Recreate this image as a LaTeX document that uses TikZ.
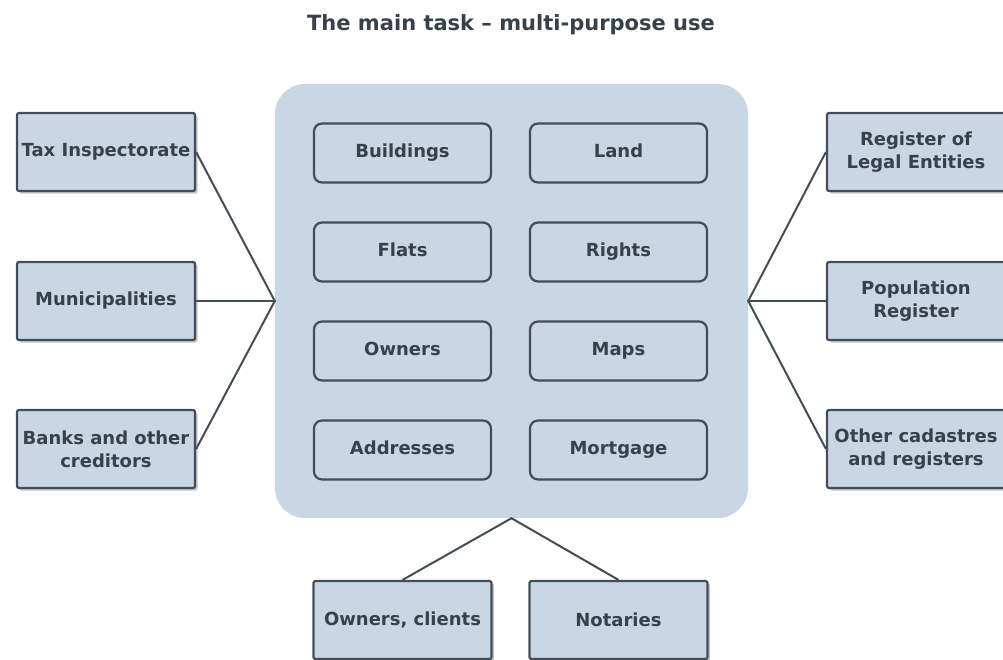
\documentclass[tikz,border=0pt]{standalone}
\usepackage{fontspec}
\setmainfont{DejaVu Sans}
\usetikzlibrary{shadows}
\definecolor{boxblue}{HTML}{C9D6E3}
\definecolor{edgegray}{HTML}{434D57}
\definecolor{textgray}{HTML}{37414B}

\begin{document}
\begin{tikzpicture}[x=1pt, y=-1pt,
    outer/.style={draw=edgegray, line width=2.2pt, fill=boxblue, rounded corners=2pt,
      minimum width=178pt, minimum height=78pt, align=center, text=textgray, inner sep=2pt,
      font=\fontsize{18}{23}\selectfont\bfseries,
      drop shadow={opacity=0.45, shadow xshift=2.5pt, shadow yshift=-2.5pt}},
    inner/.style={draw=edgegray, line width=2.2pt, rounded corners=8pt, minimum width=177pt,
      minimum height=59pt, text=textgray, text height=13pt, text depth=4pt,
      font=\fontsize{18}{23}\selectfont\bfseries},
    link/.style={draw=edgegray, line width=2pt}]
    \useasboundingbox (0,0) rectangle (1003,659);

    % Title
    \node[text=textgray, font=\fontsize{21}{25}\selectfont\bfseries] (title) at (511,25)
        {The main task -- multi-purpose use};

    % Central register
    \node[fill=boxblue, rounded corners=30pt, minimum width=473pt, minimum height=434pt]
        (core) at (511.5,301) {};
    \node[inner] (buildings) at (402.5,153) {Buildings};
    \node[inner] (land)      at (618.5,153) {Land};
    \node[inner] (flats)     at (402.5,252) {Flats};
    \node[inner] (rights)    at (618.5,252) {Rights};
    \node[inner] (owners)    at (402.5,351) {Owners};
    \node[inner] (maps)      at (618.5,351) {Maps};
    \node[inner] (addresses) at (402.5,450) {Addresses};
    \node[inner] (mortgage)  at (618.5,450) {Mortgage};

    % Users on the left
    \node[outer] (tax)   at (106,152) {Tax Inspectorate};
    \node[outer] (munic) at (106,301) {Municipalities};
    \node[outer] (banks) at (106,449) {Banks and other\\creditors};

    % Registers on the right
    \node[outer] (legal)  at (916,152) {Register of\\Legal Entities};
    \node[outer] (popul)  at (916,301) {Population\\Register};
    \node[outer] (other)  at (916,449) {Other cadastres\\and registers};

    % Users below
    \node[outer] (clients)  at (402.5,620) {Owners, clients};
    \node[outer] (notaries) at (618.5,620) {Notaries};

    % Links
    \draw[link] (tax.east) -- (core.west) -- (banks.east);
    \draw[link] (munic.east) -- (core.west);
    \draw[link] (legal.west) -- (core.east) -- (other.west);
    \draw[link] (popul.west) -- (core.east);
    \draw[link] (clients.north) -- (core.south) -- (notaries.north);
\end{tikzpicture}
\end{document}
